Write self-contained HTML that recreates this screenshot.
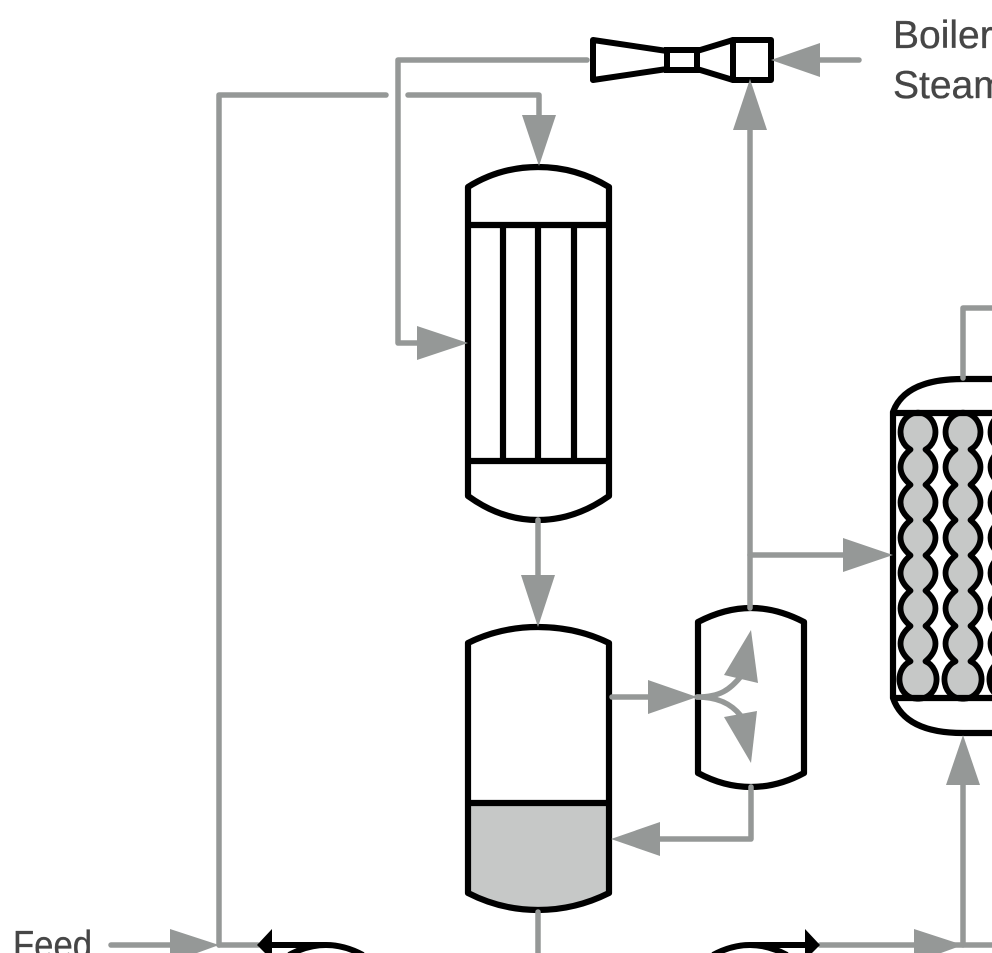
<!DOCTYPE html>
<html>
<head>
<meta charset="utf-8">
<style>
html,body{margin:0;padding:0;background:#fff;width:992px;height:953px;overflow:hidden}
svg{display:block}
.g{fill:none;stroke:#959897;stroke-width:5.5;stroke-linecap:round;stroke-linejoin:round}
.a{fill:#959897;stroke:none}
.k{fill:#fff;stroke:#000;stroke-width:6.2;stroke-linejoin:round}
.l{fill:none;stroke:#000;stroke-width:6.2}
text{font-family:"Liberation Sans",sans-serif;font-size:39px;fill:#464646;stroke:#464646;stroke-width:.35}
</style>
</head>
<body>
<svg width="992" height="953" viewBox="0 0 992 953" xmlns="http://www.w3.org/2000/svg">
<defs>
<path id="coil" d="M0 412.6A17.5 19.4 0 0 0 -7.5 449.5c-13.3 11 -13.3 24.3 0 35.3c-13.3 11 -13.3 24.3 0 35.3c-13.3 11 -13.3 24.3 0 35.3c-13.3 11 -13.3 24.3 0 35.3c-13.3 11 -13.3 24.3 0 35.3c-13.3 11 -13.3 24.3 0 35.3A17.5 19.4 0 0 0 0 698.7A17.5 19.4 0 0 0 7.5 661.3c13.3 -11 13.3 -24.3 0 -35.3c13.3 -11 13.3 -24.3 0 -35.3c13.3 -11 13.3 -24.3 0 -35.3c13.3 -11 13.3 -24.3 0 -35.3c13.3 -11 13.3 -24.3 0 -35.3c13.3 -11 13.3 -24.3 0 -35.3A17.5 19.4 0 0 0 0 412.6Z" fill="#c6c8c7" stroke="#000" stroke-width="5.8" stroke-linejoin="round"/>
</defs>

<!-- Reactor -->
<path class="k" d="M468 187Q500 167 538 167T609 187V496Q575 520 538 520T468 496Z"/>
<path class="l" d="M468 225H609M468 461H609M503 225V461M538 225V461M574 225V461"/>

<!-- Separator -->
<path d="M468 803H609V893Q575 910 538 910T468 893Z" fill="#c6c8c7"/>
<path class="l" style="stroke-linejoin:round" d="M468 643Q500 627 538 627T609 643V893Q575 910 538 910T468 893Z"/>
<path class="l" d="M468 803H609"/>

<!-- Flash vessel -->
<path class="k" d="M698 622Q725 608 751 608T804 622V773Q778 787 751 787T698 773Z"/>

<!-- Right column -->
<path d="M992 379H963Q905 379 893 412V698Q905 733 963 733H992" fill="#fff" stroke="#000" stroke-width="6.2" stroke-linejoin="round"/>
<use href="#coil" x="918"/>
<use href="#coil" x="963"/>
<use href="#coil" x="1008"/>
<path class="l" d="M893 413H992M893 698H992"/>

<!-- Ejector -->
<path d="M593 40L667 51V69L593 80Z" fill="#fff" stroke="#000" stroke-width="6" stroke-linejoin="round"/>
<rect x="667" y="50" width="30" height="20" fill="#fff" stroke="#000" stroke-width="6"/>
<path d="M697 51L733 40V80L697 69Z" fill="#fff" stroke="#000" stroke-width="6" stroke-linejoin="round"/>
<rect x="733" y="40" width="38" height="40" fill="#fff" stroke="#000" stroke-width="6" stroke-linejoin="round"/>

<!-- Grey lines -->
<path class="g" d="M587 60H398V343H420"/>
<path class="g" d="M386 95H219V945"/>
<path class="g" d="M408 95H539V118"/>
<path class="g" d="M538 520V578"/>
<path class="g" d="M750 608V128"/>
<path class="g" d="M750 555H845"/>
<path class="g" d="M859 60H818"/>
<path class="g" d="M612 697H650"/>
<path class="g" d="M697 697C720 697 730 690 742 675"/>
<path class="g" d="M697 697C715 697 730 702 741 716"/>
<path class="g" d="M751 787V839H658"/>
<path class="g" d="M963 378V308H992"/>
<path class="g" d="M963 945V783"/>
<path class="g" d="M111 945H172"/>
<path class="g" d="M219 945H258"/>
<path class="g" d="M820 945H992"/>
<path class="g" d="M538 912V953"/>

<!-- Grey arrowheads -->
<path class="a" d="M417 326V360L468 343Z"/>
<path class="a" d="M522 115H556L539 166Z"/>
<path class="a" d="M521 575H555L538 627Z"/>
<path class="a" d="M733 130H767L750 79Z"/>
<path class="a" d="M843 538V572L893 555Z"/>
<path class="a" d="M820 43V77L771 60Z"/>
<path class="a" d="M648 680V714L697 697Z"/>
<path class="a" d="M751 630L724 675L758 683Z"/>
<path class="a" d="M751 763L724 717L757 711Z"/>
<path class="a" d="M660 822V856L611 839Z"/>
<path class="a" d="M946 785H980L963 735Z"/>
<path class="a" d="M170 929V953H197L219 945Z"/>
<path class="a" d="M914 929V953H941L963 945Z"/>

<!-- Pumps -->
<path d="M257 945L272 929V953H265Z" fill="#000"/>
<path d="M272 945H326" stroke="#000" stroke-width="6" fill="none"/>
<path d="M289 955Q326 935 363 955" fill="none" stroke="#000" stroke-width="6"/>
<path d="M820 945L805 929V953H812Z" fill="#000"/>
<path d="M805 945H750" stroke="#000" stroke-width="6" fill="none"/>
<path d="M713 955Q750 935 787 955" fill="none" stroke="#000" stroke-width="6"/>

<!-- Labels -->
<text x="893" y="48">Boiler</text>
<text x="893" y="98">Steam</text>
<text x="13" y="958" textLength="79" lengthAdjust="spacingAndGlyphs">Feed</text>
</svg>
</body>
</html>
